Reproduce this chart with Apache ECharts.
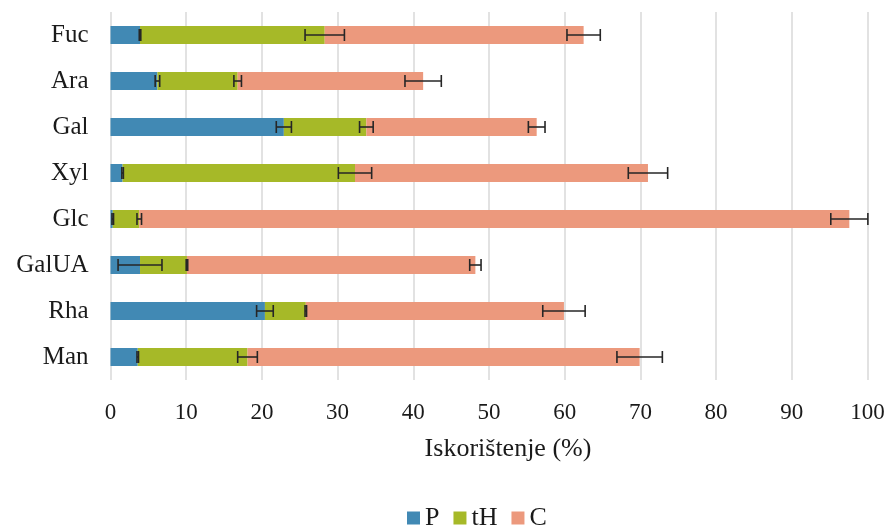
<!DOCTYPE html>
<html>
<head>
<meta charset="utf-8">
<script src="https://cdn.jsdelivr.net/npm/echarts@6/dist/echarts.min.js"></script>
<style>html,body{margin:0;padding:0;background:#fff;}#c{width:891px;height:530px;}</style>
</head>
<body>
<div id="c"></div>
<script>
var categories = ['Fuc','Ara','Gal','Xyl','Glc','GalUA','Rha','Man'];
var pVals  = [3.9, 6.2, 22.9, 1.6, 0.3, 3.9, 20.4, 3.6];
var tHVals = [24.4, 10.6, 10.9, 30.7, 3.5, 6.2, 5.4, 14.5];
var cVals  = [34.2, 24.5, 22.5, 38.7, 93.8, 38.1, 34.1, 51.8];
var pErr  = [0.1, 0.3, 1.0, 0.1, 0.1, 2.9, 1.1, 0.1];
var tHErr = [2.6, 0.5, 0.9, 2.2, 0.3, 0.1, 0.1, 1.3];
var cErr  = [2.2, 2.4, 1.1, 2.6, 2.45, 0.75, 2.8, 3.0];
var xTicks = [0,10,20,30,40,50,60,70,80,90,100];

var errData = [];
for (var i = 0; i < categories.length; i++) {
  var e1 = pVals[i], e2 = e1 + tHVals[i], e3 = e2 + cVals[i];
  errData.push([i, e1, pErr[i]]);
  errData.push([i, e2, tHErr[i]]);
  errData.push([i, e3, cErr[i]]);
}
var font = '"Liberation Serif", "Times New Roman", serif';
var chart = echarts.init(document.getElementById('c'));
chart.setOption({
  animation: false,
  textStyle: {fontFamily: font},
  grid: {left: 110.5, right: 23.5, top: 12, bottom: 150},
  legend: {
    data: ['P','tH','C'], top: 500, left: 402, icon: 'rect',
    itemWidth: 13, itemHeight: 13, itemGap: 14,
    textStyle: {fontFamily: font, fontSize: 26, color: '#1a1a1a'}
  },
  xAxis: {
    type: 'value', min: xTicks[0], max: xTicks[xTicks.length-1], interval: 10,
    name: 'Iskorištenje (%)', nameLocation: 'middle', nameGap: 56,
    nameTextStyle: {fontFamily: font, fontSize: 26, color: '#1a1a1a', padding: [0,0,0,38]},
    axisLine: {show: false}, axisTick: {show: false},
    axisLabel: {fontFamily: font, fontSize: 23, color: '#1a1a1a', margin: 21},
    splitLine: {lineStyle: {color: '#d9d9d9', width: 1.5}}
  },
  yAxis: {
    type: 'category', data: categories, inverse: true,
    axisLine: {show: false}, axisTick: {show: false},
    axisLabel: {fontFamily: font, fontSize: 25, color: '#1a1a1a', margin: 22}
  },
  series: [
    {name: 'P', type: 'bar', stack: 's', data: pVals, barWidth: 18, itemStyle: {color: '#4189b4'}},
    {name: 'tH', type: 'bar', stack: 's', data: tHVals, barWidth: 18, itemStyle: {color: '#a6b928'}},
    {name: 'C', type: 'bar', stack: 's', data: cVals, barWidth: 18, itemStyle: {color: '#ec997d'}},
    {
      type: 'custom', data: errData, z: 10,
      encode: {x: [1], y: 0},
      renderItem: function (params, api) {
        var ci = api.value(0), c = api.value(1), e = api.value(2);
        var a = api.coord([c - e, ci]);
        var b = api.coord([c + e, ci]);
        var h = 6;
        var st = {stroke: '#262626', lineWidth: 1.6};
        return {type: 'group', children: [
          {type: 'line', shape: {x1: a[0], y1: a[1], x2: b[0], y2: b[1]}, style: st},
          {type: 'line', shape: {x1: a[0], y1: a[1]-h, x2: a[0], y2: a[1]+h}, style: st},
          {type: 'line', shape: {x1: b[0], y1: b[1]-h, x2: b[0], y2: b[1]+h}, style: st}
        ]};
      }
    }
  ]
});
</script>
</body>
</html>
